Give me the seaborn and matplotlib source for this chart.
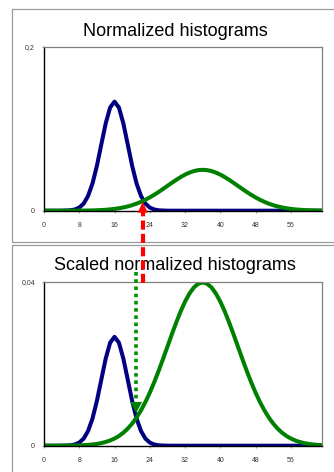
import matplotlib
matplotlib.use("Agg")
import matplotlib.pyplot as plt
import seaborn as sns
import pandas as pd
import numpy as np
from matplotlib.patches import Rectangle, Polygon
from matplotlib.lines import Line2D

# ---- data ----
x_values = list(range(0, 64))
blue_norm = [0, 0, 0, 0, 0.00004, 0.0002, 0.0005, 0.0015, 0.0038, 0.0087,
             0.0180, 0.0332, 0.0547, 0.0807, 0.1065, 0.1258, 0.1330, 0.1258,
             0.1065, 0.0807, 0.0547, 0.0332, 0.0180, 0.0087, 0.0038, 0.0015,
             0.0005, 0.0002, 0.00004] + [0] * 35
green_norm = [0.00000, 0.00001, 0.00001, 0.00001, 0.00002, 0.00003, 0.00004,
              0.00007, 0.00011, 0.00017, 0.00025, 0.00038, 0.00055, 0.00080,
              0.00114, 0.00159, 0.00219, 0.00297, 0.00397, 0.00522, 0.00675,
              0.00860, 0.01079, 0.01332, 0.01619, 0.01938, 0.02283, 0.02649,
              0.03025, 0.03401, 0.03764, 0.04102, 0.04401, 0.04648, 0.04833,
              0.04948, 0.04987, 0.04948, 0.04833, 0.04648, 0.04401, 0.04102,
              0.03764, 0.03401, 0.03025, 0.02649, 0.02283, 0.01938, 0.01619,
              0.01332, 0.01079, 0.00860, 0.00675, 0.00522, 0.00397, 0.00297,
              0.00219, 0.00159, 0.00114, 0.00080, 0.00055, 0.00038, 0.00025,
              0.00017]
blue_weight = 0.2
green_weight = 0.8
x_ticks = [0, 8, 16, 24, 32, 40, 48, 56]
titles = ["Normalized histograms", "Scaled normalized histograms"]
y_max = [0.2, 0.04]
y_labels = [["0", "0,2"], ["0", "0,04"]]
red_arrow_x = 22.4
green_arrow_x = 20.9

sns.set_style("white")
plt.rcParams["font.family"] = ["Liberation Sans", "DejaVu Sans"]

W, H = 334, 472
fig = plt.figure(figsize=(W / 100, H / 100), dpi=100)

def fpos(left, top, right, bottom):
    return [left / W, 1 - bottom / H, (right - left) / W, (bottom - top) / H]

# frames
for (t, b) in [(9, 241.7), (245, 490)]:
    fig.patches.append(Rectangle((12 / W, 1 - b / H), (350 - 12) / W, (b - t) / H,
                                 transform=fig.transFigure, fill=False,
                                 edgecolor="#9a9a9a", linewidth=0.9, clip_on=False))

ax1 = fig.add_axes(fpos(44, 46.7, 321.7, 210.7))
ax2 = fig.add_axes(fpos(44, 282, 321.7, 445.7))

df1 = pd.DataFrame({"x": x_values, "blue": blue_norm, "green": green_norm})
df2 = pd.DataFrame({"x": x_values,
                    "blue": [v * blue_weight for v in blue_norm],
                    "green": [v * green_weight for v in green_norm]})

for ax, df, ym, yl, title, tcy in [(ax1, df1, y_max[0], y_labels[0], titles[0], 31),
                                     (ax2, df2, y_max[1], y_labels[1], titles[1], 265)]:
    sns.lineplot(data=df, x="x", y="blue", ax=ax, color="#000080", linewidth=2.9)
    sns.lineplot(data=df, x="x", y="green", ax=ax, color="#008000", linewidth=2.9)
    ax.set_xlim(0, 63)
    ax.set_ylim(0, ym)
    ax.set_xticks(x_ticks)
    ax.set_xticklabels([str(t) for t in x_ticks])
    ax.set_yticks([0, ym])
    ax.set_yticklabels(yl)
    ax.set_xlabel("")
    ax.set_ylabel("")
    ax.tick_params(axis="x", length=1.5, width=0.6, color="#888888", pad=6.4,
                   labelsize=5.0, labelcolor="#333333", direction="out", bottom=True)
    ax.tick_params(axis="y", length=1.5, width=0.6, color="#888888", pad=5,
                   labelsize=5.0, labelcolor="#333333", direction="out", left=True)
    for s in ["left", "bottom"]:
        ax.spines[s].set_color("black")
        ax.spines[s].set_linewidth(1.0)
    for s in ["top", "right"]:
        ax.spines[s].set_color("#808080")
        ax.spines[s].set_linewidth(0.9)
    fig.text(175 / W, 1 - tcy / H, title, ha="center", va="center", fontsize=13,
             color="black")

inv = fig.transFigure.inverted()
fig.canvas.draw()

# red dashed arrow (bottom panel top -> top-panel intersection)
x_red_px = ax1.transData.transform((red_arrow_x, 0))[0]
tip_r = ax1.transData.transform((red_arrow_x, 0.011))
base_r_y = tip_r[1] - 11
start_r = ax2.transData.transform((red_arrow_x, 0.0398))
p0 = inv.transform((x_red_px, start_r[1]))
p1 = inv.transform((x_red_px, base_r_y + 1))
fig.lines.append(Line2D([p0[0], p1[0]], [p0[1], p1[1]], transform=fig.transFigure,
                        color="#ff0000", linewidth=3.0, dashes=(2.2, 1.0),
                        solid_capstyle="butt", dash_capstyle="butt", zorder=10))
tri = [inv.transform((x_red_px - 5, base_r_y)), inv.transform((x_red_px + 5, base_r_y)),
       inv.transform((x_red_px, tip_r[1]))]
fig.patches.append(Polygon(tri, closed=True, transform=fig.transFigure,
                           facecolor="#ff0000", edgecolor="none", zorder=10))

# green dotted arrow (above bottom panel -> bottom-panel intersection)
x_g_px = ax2.transData.transform((green_arrow_x, 0))[0]
tip_g = ax2.transData.transform((green_arrow_x, 0.008))
base_g_y = tip_g[1] + 11
start_g = ax2.transData.transform((green_arrow_x, 0.0425))
q0 = inv.transform((x_g_px, start_g[1]))
q1 = inv.transform((x_g_px, base_g_y - 1))
fig.lines.append(Line2D([q0[0], q1[0]], [q0[1], q1[1]], transform=fig.transFigure,
                        color="#009000", linewidth=2.6, dashes=(1.0, 1.0),
                        solid_capstyle="butt", dash_capstyle="butt", zorder=10))
trig = [inv.transform((x_g_px - 6, base_g_y)), inv.transform((x_g_px + 6, base_g_y)),
        inv.transform((x_g_px, tip_g[1]))]
fig.patches.append(Polygon(trig, closed=True, transform=fig.transFigure,
                           facecolor="#008000", edgecolor="none", zorder=10))

fig.savefig("out.png", dpi=100)
